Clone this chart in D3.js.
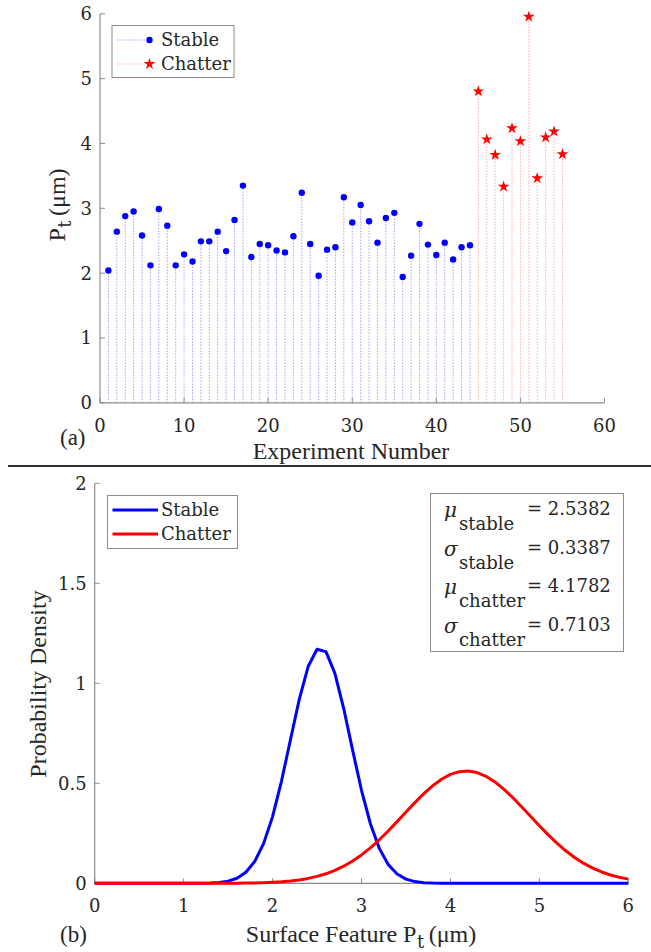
<!DOCTYPE html>
<html><head><meta charset="utf-8">
<script src="https://cdn.jsdelivr.net/npm/d3@7"></script>
<style>body{margin:0;background:#fff}svg{display:block}</style>
</head><body><svg id="c" width="651" height="952"></svg>
<script>
// ---- data: panel (a)
const stableExp = [1,2,3,4,5,6,7,8,9,10,11,12,13,14,15,16,17,18,19,20,21,22,23,24,25,26,27,28,29,30,31,32,33,34,35,36,37,38,39,40,41,42,43,44];
const stablePt = [2.04,2.64,2.88,2.95,2.58,2.12,2.99,2.73,2.12,2.29,2.18,2.49,2.49,2.64,2.34,2.82,3.35,2.25,2.45,2.43,2.35,2.32,2.57,3.24,2.45,1.96,2.36,2.40,3.17,2.78,3.05,2.80,2.47,2.85,2.93,1.94,2.27,2.76,2.44,2.28,2.47,2.21,2.40,2.43];
const chatterExp = [45,46,47,48,49,50,51,52,53,54,55];
const chatterPt = [4.82,4.08,3.84,3.35,4.25,4.05,5.97,3.48,4.11,4.20,3.85];
const xTicksA = [0,10,20,30,40,50,60];
const yTicksA = [0,1,2,3,4,5,6];
// ---- data: panel (b)
const surfX = [0,0.1,0.2,0.3,0.4,0.5,0.6,0.7,0.8,0.9,1.0,1.1,1.2,1.3,1.4,1.5,1.6,1.7,1.8,1.9,2.0,2.1,2.2,2.3,2.4,2.5,2.6,2.7,2.8,2.9,3.0,3.1,3.2,3.3,3.4,3.5,3.6,3.7,3.8,3.9,4.0,4.1,4.2,4.3,4.4,4.5,4.6,4.7,4.8,4.9,5.0,5.1,5.2,5.3,5.4,5.5,5.6,5.7,5.8,5.9,6.0];
const densStable = [0,0,0,0,0,0,0,0,0,0,0.0000,0.0001,0.0005,0.0015,0.0042,0.0107,0.0254,0.0551,0.1095,0.1995,0.3334,0.5102,0.7155,0.9198,1.0838,1.1705,1.1584,1.0509,0.8738,0.6658,0.4650,0.2977,0.1746,0.0939,0.0463,0.0209,0.0086,0.0033,0.0011,0.0004,0.0001,0,0,0,0,0,0,0,0,0,0,0,0,0,0,0,0,0,0,0,0];
const densChatter = [0,0,0,0,0,0,0,0,0,0,0.0000,0.0000,0.0001,0.0002,0.0003,0.0005,0.0008,0.0013,0.0021,0.0033,0.0051,0.0078,0.0116,0.0170,0.0245,0.0345,0.0476,0.0644,0.0855,0.1113,0.1419,0.1775,0.2176,0.2616,0.3083,0.3561,0.4033,0.4478,0.4874,0.5203,0.5443,0.5583,0.5614,0.5535,0.5350,0.5069,0.4709,0.4289,0.3829,0.3352,0.2876,0.2420,0.1996,0.1614,0.1279,0.0994,0.0758,0.0566,0.0415,0.0298,0.0209];
const xTicksB = [0,1,2,3,4,5,6];
const yTicksB = [0,0.5,1,1.5,2];
const stats = [
  {sym:"μ", sub:"stable", val:"2.5382"},
  {sym:"σ", sub:"stable", val:"0.3387"},
  {sym:"μ", sub:"chatter", val:"4.1782"},
  {sym:"σ", sub:"chatter", val:"0.7103"}
];

const svg = d3.select("#c");
svg.append("rect").attr("width",651).attr("height",952).attr("fill","#fff");
const AX = "#8c8c8c";
const TXT = "#262626";
const BIG = "'Liberation Serif'";
const SMALL = "'DejaVu Serif'";

function T(parent, x, y, size, str, anchor, fam, italic) {
  const t = parent.append("text").attr("x", x).attr("y", y)
    .attr("fill", TXT).attr("text-anchor", anchor || "start").text(str);
  t.attr("style", `font-family:${fam || BIG};font-size:${size}px` + (italic ? ";font-style:italic" : ""));
  return t;
}
function width(t) { return t.node().getComputedTextLength(); }
function subLabel(parent, size, subSize, pre, sub, post) {
  const a = T(parent, 0, 0, size, pre, "start", BIG), b = T(parent, 0, 6, subSize, sub, "start", SMALL), c = T(parent, 0, 0, size, post, "start", BIG);
  const wa = width(a), wb = width(b), wc = width(c);
  const x0 = -(wa + wb + wc + 5) / 2;
  a.attr("x", x0); b.attr("x", x0 + wa + 0.5); c.attr("x", x0 + wa + wb + 5);
}

function drawAxes(g, x, y, xt, yt) {
  const x0 = x.range()[0], x1 = x.range()[1], y0 = y.range()[0], y1 = y.range()[1];
  g.append("line").attr("x1",x0).attr("x2",x1).attr("y1",y0).attr("y2",y0).attr("stroke",AX).attr("stroke-width",1.2);
  g.append("line").attr("x1",x0).attr("x2",x0).attr("y1",y0).attr("y2",y1).attr("stroke",AX).attr("stroke-width",1.2);
  xt.forEach(t => {
    g.append("line").attr("x1",x(t)).attr("x2",x(t)).attr("y1",y0).attr("y2",y0-5).attr("stroke",AX);
    T(g, x(t), y0+29, 18, String(t), "middle", SMALL);
  });
  yt.forEach(t => {
    g.append("line").attr("x1",x0).attr("x2",x0+5).attr("y1",y(t)).attr("y2",y(t)).attr("stroke",AX);
    T(g, x0-8, y(t)+6.5, 18, String(t), "end", SMALL);
  });
}

// ---------- panel (a)
const xa = d3.scaleLinear().domain([0,60]).range([100,604.5]);
const ya = d3.scaleLinear().domain([0,6]).range([402.8,13.8]);
const ga = svg.append("g");

const stable = stableExp.map((e,i)=>({e, v:stablePt[i]}));
const chatter = chatterExp.map((e,i)=>({e, v:chatterPt[i]}));

ga.selectAll(".stemS").data(stable).join("line")
  .attr("x1",d=>xa(d.e)).attr("x2",d=>xa(d.e)).attr("y1",ya(0)).attr("y2",d=>ya(d.v))
  .attr("stroke","#0000ff").attr("stroke-opacity",0.45).attr("stroke-width",1).attr("stroke-dasharray","1.2,1.8");
ga.selectAll(".stemC").data(chatter).join("line")
  .attr("x1",d=>xa(d.e)).attr("x2",d=>xa(d.e)).attr("y1",ya(0)).attr("y2",d=>ya(d.v))
  .attr("stroke","#ff0000").attr("stroke-opacity",0.4).attr("stroke-width",1).attr("stroke-dasharray","1.2,1.8");

drawAxes(ga, xa, ya, xTicksA, yTicksA);

ga.selectAll(".ptS").data(stable).join("circle")
  .attr("cx",d=>xa(d.e)).attr("cy",d=>ya(d.v)).attr("r",3.2).attr("fill","#0000ff");
const star = d3.symbol().type(d3.symbolStar).size(42);
ga.selectAll(".ptC").data(chatter).join("path")
  .attr("d",star).attr("transform",d=>`translate(${xa(d.e)},${ya(d.v)+1})`).attr("fill","#ff0000");

// legend (a)
ga.append("rect").attr("x",112).attr("y",25.5).attr("width",122).attr("height",52).attr("fill","#fff").attr("stroke","#8c8c8c");
ga.append("line").attr("x1",116.5).attr("x2",146).attr("y1",40).attr("y2",40).attr("stroke","#0000ff").attr("stroke-opacity",0.45).attr("stroke-dasharray","1.2,1.8");
ga.append("circle").attr("cx",149.5).attr("cy",40).attr("r",3.2).attr("fill","#0000ff");
T(ga, 161, 46, 18, "Stable", "start", SMALL);
ga.append("line").attr("x1",116.5).attr("x2",146).attr("y1",64).attr("y2",64).attr("stroke","#ff0000").attr("stroke-opacity",0.4).attr("stroke-dasharray","1.2,1.8");
ga.append("path").attr("d",star).attr("transform","translate(149.5,64)").attr("fill","#ff0000");
T(ga, 161, 70, 18, "Chatter", "start", SMALL);

// labels (a)
T(ga, 351, 459, 24, "Experiment Number", "middle");
subLabel(ga.append("g").attr("transform","translate(65,205) rotate(-90)"), 24, 18, "P", "t", "(μm)");
T(ga, 60, 445, 23, "(a)");

// separator
svg.append("line").attr("x1",8).attr("x2",651).attr("y1",466).attr("y2",466).attr("stroke","#333").attr("stroke-width",2);

// ---------- panel (b)
const xb = d3.scaleLinear().domain([0,6]).range([94.7,628.3]);
const yb = d3.scaleLinear().domain([0,2]).range([883.3,483.3]);
const gb = svg.append("g");
drawAxes(gb, xb, yb, xTicksB, yTicksB);

const line = d3.line().x(d=>xb(d[0])).y(d=>yb(d[1]));
gb.append("path").attr("d",line(surfX.map((x,i)=>[x,densStable[i]]))).attr("fill","none").attr("stroke","#0000ff").attr("stroke-width",3).attr("stroke-linejoin","round");
gb.append("path").attr("d",line(surfX.map((x,i)=>[x,densChatter[i]]))).attr("fill","none").attr("stroke","#ff0000").attr("stroke-width",3).attr("stroke-linejoin","round");

// legend (b)
gb.append("rect").attr("x",107.5).attr("y",495.5).attr("width",130).attr("height",53).attr("fill","#fff").attr("stroke","#8c8c8c");
gb.append("line").attr("x1",112.5).attr("x2",158).attr("y1",510).attr("y2",510).attr("stroke","#0000ff").attr("stroke-width",3);
T(gb, 161, 516, 18, "Stable", "start", SMALL);
gb.append("line").attr("x1",112.5).attr("x2",158).attr("y1",534).attr("y2",534).attr("stroke","#ff0000").attr("stroke-width",3);
T(gb, 161, 540, 18, "Chatter", "start", SMALL);

// stats box
gb.append("rect").attr("x",430.5).attr("y",493.5).attr("width",193).attr("height",158).attr("fill","#fff").attr("stroke","#8c8c8c");
stats.forEach((s,i)=>{
  const by = 515 + i*38.5;
  T(gb, 444, by+2, 20, s.sym, "start", SMALL, true);
  T(gb, 459, by+15, 18, s.sub, "start", SMALL);
  T(gb, 527, by, 18, "= " + s.val, "start", SMALL);
});

// labels (b)
subLabel(gb.append("g").attr("transform","translate(361,942)"), 24, 18, "Surface Feature P", "t", "(μm)");
T(gb.append("g").attr("transform","translate(46,684) rotate(-90)"), 0, 0, 24, "Probability Density", "middle");
T(gb, 60, 942, 23, "(b)");
</script></body></html>
